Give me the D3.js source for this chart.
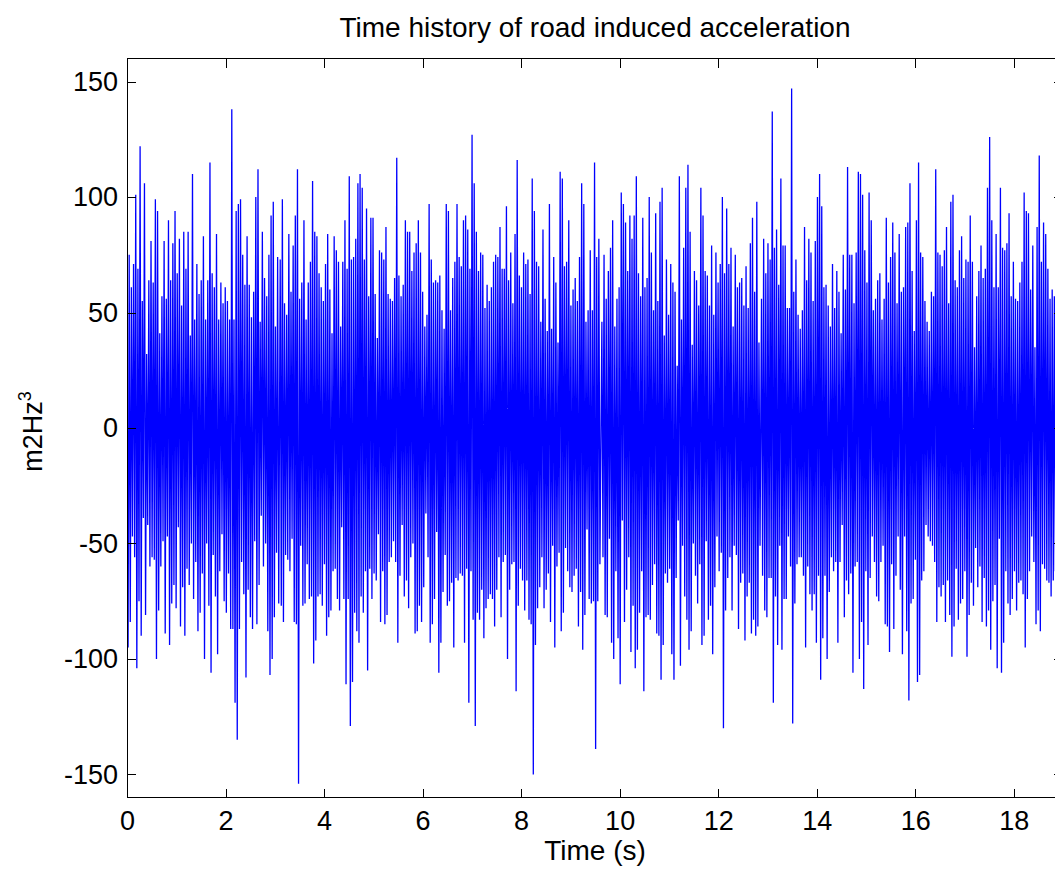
<!DOCTYPE html>
<html>
<head>
<meta charset="utf-8">
<script src="https://cdn.jsdelivr.net/npm/d3@7"></script>
<style>
  html, body { margin: 0; padding: 0; background: #fff; }
  svg { display: block; }
  text { font-family: "Liberation Sans", Arial, sans-serif; fill: #000; }
</style>
</head>
<body>
<div id="chart"></div>
<script>
// ---------- data ----------
const chartTitle = "Time history of road induced acceleration";
const xLabel = "Time (s)";
const yLabelMain = "m2Hz";
const yLabelSup = "3";
const xTicks = [0, 2, 4, 6, 8, 10, 12, 14, 16, 18];
const yTicks = [-150, -100, -50, 0, 50, 100, 150];
const xDomain = [0, 19];
const yDomain = [-160, 160];

// Acceleration samples, alternating peak / trough, in six time segments
const segmentTimes = [
  [0.00, 3.08],
  [3.11, 6.33],
  [6.35, 9.60],
  [9.64, 12.85],
  [12.88, 16.09],
  [16.11, 18.89]
];
const accelSeg1 = [46,-95, 75,-84, 61,-47, 71,-56, 101,-104, 69,-75, 122,-90, 55,-39, 106,-81, 32,-42,
  64,-60, 81,-56, 63,-57, 99,-100, 94,-79, 41,-60, 57,-49, 81,-89, 56,-47, 90,-94,
  64,-76, 80,-68, 94,-78, 67,-43, 82,-86, 53,-69, 85,-90, 69,-61, 85,-68, 40,-50,
  110,-74, 47,-58, 71,-88, 58,-80, 64,-63, 83,-100, 47,-50, 64,-77, 115,-106, 67,-55,
  61,-73, 84,-98, 47,-62, 63,-46, 54,-75, 61,-80, 55,-63, 47,-87, 138,-87, 47,-119,
  94,-135, 97,-87, 99,-58, 75,-72, 62,-108, 83,-70, 62,-82, 48,-87, 59,-49, 100,-85,
  112,-68, 46,-38, 85,-60, 65,-50, 57,-88, 75,-107, 92,-100, 98,-82, 44,-54, 74,-76];
const accelSeg2 = [73,-77, 99,-84, 54,-55, 49,-57, 84,-62, 59,-48, 79,-84, 92,-85, 112,-154, 56,-51,
  63,-77, 90,-76, 47,-59, 63,-74, 72,-73, 107,-102, 85,-92, 83,-73, 67,-72, 61,-77,
  55,-59, 71,-90, 84,-82, 60,-79, 41,-62, 83,-61, 77,-74, 72,-79, 44,-43, 72,-74,
  90,-111, 69,-74, 109,-129, 73,-110, 74,-80, 82,-88, 106,-93, 110,-73, 104,-80, 73,-62,
  95,-105, 57,-61, 91,-74, 91,-63, 58,-66, 39,-46, 77,-84, 76,-62, 73,-85, 87,-81,
  58,-58, 56,-56, 55,-49, 65,-58, 117,-93, 66,-64, 57,-42, 62,-73, 90,-66, 85,-78,
  85,-56, 68,-50, 76,-89, 80,-88, 90,-77, 76,-84, 59,-69, 44,-37, 49,-56, 97,-93,
  73,-85, 63,-74, 64,-45, 63,-106];
const accelSeg3 = [66,-93, 51,-71, 43,-55, 97,-77, 94,-75, 51,-67, 65,-95, 72,-65, 97,-66, 74,-63,
  70,-64, 90,-93, 92,-61, 86,-119, 69,-62, 127,-83, 106,-129, 85,-80, 68,-83, 76,-70,
  75,-91, 52,-78, 62,-74, 55,-72, 61,-74, 72,-86, 75,-70, 74,-56, 87,-82, 69,-58,
  69,-55, 96,-100, 64,-70, 76,-59, 54,-58, 84,-114, 116,-77, 66,-61, 61,-66, 76,-79,
  71,-66, 73,-83, 58,-85, 108,-150, 94,-94, 72,-78, 70,-69, 46,-56, 86,-78, 56,-70,
  42,-63, 97,-84, 43,-51, 74,-95, 63,-60, 37,-54, 111,-88, 108,-80, 70,-52, 72,-62,
  90,-69, 53,-71, 60,-64, 65,-61, 55,-86, 74,-71, 106,-96, 97,-81, 46,-44, 51,-74,
  77,-76, 51,-75, 115,-139, 74,-75, 82,-59];
const accelSeg4 = [46,-56, 75,-81, 56,-82, 68,-48, 78,-93, 90,-100, 44,-62, 56,-91, 61,-111, 102,-40,
  97,-84, 89,-70, 68,-56, 92,-97, 82,-77, 92,-104, 109,-96, 67,-80, 57,-62, 91,-114,
  61,-82, 65,-81, 100,-83, 76,-68, 51,-59, 93,-89, 55,-90, 98,-109, 104,-94, 40,-63,
  73,-67, 49,-61, 71,-98, 63,-109, 59,-65, 27,-40, 109,-103, 47,-51, 78,-73, 104,-83,
  114,-96, 85,-88, 36,-50, 68,-64, 64,-76, 53,-59, 104,-94, 92,-90, 68,-49, 66,-83,
  53,-77, 79,-98, 49,-69, 76,-47, 63,-62, 71,-54, 100,-130, 67,-79, 95,-65, 71,-56,
  78,-79, 44,-51, 75,-55, 61,-87, 63,-67, 65,-63, 53,-92, 70,-73, 52,-67, 80,-89,
  91,-83, 59,-90, 98,-86, 37,-51];
const accelSeg5 = [56,-64, 82,-79, 67,-82, 80,-65, 73,-65, 137,-119, 78,-73, 86,-94, 62,-51, 108,-96,
  79,-74, 79,-74, 52,-47, 52,-60, 147,-128, 59,-76, 73,-59, 49,-56, 43,-56, 51,-64,
  87,-95, 64,-60, 82,-72, 76,-79, 55,-72, 81,-93, 100,-64, 110,-109, 96,-91, 61,-64,
  62,-100, 53,-71, 44,-56, 71,-62, 52,-58, 68,-93, 59,-58, 41,-42, 75,-82, 60,-66,
  113,-72, 75,-63, 75,-106, 54,-60, 76,-58, 111,-100, 110,-84, 101,-113, 77,-62, 63,-94,
  102,-65, 90,-47, 51,-58, 56,-73, 64,-75, 67,-58, 47,-51, 56,-85, 91,-86, 63,-97,
  74,-59, 89,-87, 76,-64, 54,-47, 84,-70, 59,-98, 61,-47, 87,-88, 89,-118, 106,-76,
  68,-74, 42,-57, 90,-110, 115,-107];
const accelSeg6 = [76,-66, 74,-62, 55,-42, 46,-47, 42,-49, 59,-51, 57,-58, 112,-84, 76,-69, 75,-73,
  70,-68, 77,-84, 87,-66, 54,-81, 98,-99, 101,-86, 64,-61, 61,-83, 77,-76, 83,-74,
  65,-62, 73,-99, 72,-81, 92,-67, 72,-77, 35,-52, 57,-69, 68,-60, 79,-84, 65,-65,
  69,-86, 104,-79, 126,-96, 90,-75, 61,-68, 84,-104, 61,-48, 104,-106, 78,-93, 77,-62,
  80,-76, 93,-81, 57,-74, 72,-62, 56,-79, 55,-67, 63,-66, 72,-72, 102,-95, 94,-74,
  93,-62, 60,-47, 79,-58, 35,-85, 87,-79, 118,-88, 72,-59, 89,-61, 84,-66, 69,-67,
  56,-73, 60,-66, 57,-62, 64,-58];
const accelSegments = [accelSeg1, accelSeg2, accelSeg3, accelSeg4, accelSeg5, accelSeg6];

// ---------- build sample table ----------
const samples = [];
accelSegments.forEach((seg, s) => {
  const [t0, t1] = segmentTimes[s];
  const step = (t1 - t0) / (seg.length - 1);
  seg.forEach((v, i) => samples.push({ t: t0 + i * step, a: v }));
});

// ---------- layout ----------
const W = 1055, H = 873;
const x0 = 127, x1 = 1063, y0 = 58.5, y1 = 797.5;

const svg = d3.select("#chart").append("svg")
  .attr("width", W).attr("height", H);

const x = d3.scaleLinear().domain(xDomain).range([x0, x1]);
const y = d3.scaleLinear().domain(yDomain).range([y1, y0]);

svg.append("clipPath").attr("id", "plotclip")
  .append("rect").attr("x", x0).attr("y", y0).attr("width", x1 - x0).attr("height", y1 - y0);

const line = d3.line().x(d => x(d.t)).y(d => y(d.a));
svg.append("path")
  .datum(samples)
  .attr("clip-path", "url(#plotclip)")
  .attr("fill", "none")
  .attr("stroke", "#0000ff")
  .attr("stroke-width", 1.3)
  .attr("stroke-linejoin", "miter")
  .attr("stroke-miterlimit", 2)
  .attr("d", line);

const tickLen = 9;
const fs = 27;
function styleAxis(g) {
  g.selectAll(".domain").remove();
  g.selectAll(".tick line").attr("stroke", "#000").attr("stroke-width", 1).attr("shape-rendering", "crispEdges");
  g.selectAll(".tick text").style("font-size", fs + "px").style("font-family", '"Liberation Sans", Arial, sans-serif').attr("fill", "#000");
}
svg.append("g").attr("transform", `translate(0,${y1})`)
  .call(d3.axisBottom(x).tickValues(xTicks).tickFormat(d3.format("d")).tickSize(-tickLen).tickPadding(13))
  .call(styleAxis);
svg.append("g").attr("transform", `translate(0,${y0})`)
  .call(d3.axisTop(x).tickValues(xTicks).tickFormat("").tickSize(-tickLen))
  .call(styleAxis);
svg.append("g").attr("transform", `translate(${x0},0)`)
  .call(d3.axisLeft(y).tickValues(yTicks).tickFormat(d3.format("d")).tickSize(-tickLen).tickPadding(9))
  .call(styleAxis);
svg.append("g").attr("transform", `translate(${x1},0)`)
  .call(d3.axisRight(y).tickValues(yTicks).tickFormat("").tickSize(-tickLen))
  .call(styleAxis);

svg.selectAll(".tick text").text(function() { return d3.select(this).text().replace("\u2212", "-"); });

svg.append("rect")
  .attr("x", x0).attr("y", y0).attr("width", x1 - x0).attr("height", y1 - y0)
  .attr("fill", "none").attr("stroke", "#000").attr("stroke-width", 1)
  .attr("shape-rendering", "crispEdges");

svg.append("text")
  .attr("x", (x0 + x1) / 2).attr("y", 37)
  .attr("text-anchor", "middle")
  .style("font-size", "28px")
  .text(chartTitle);

svg.append("text")
  .attr("x", (x0 + x1) / 2).attr("y", 860)
  .attr("text-anchor", "middle")
  .style("font-size", "28px")
  .text(xLabel);

const yl = svg.append("text")
  .attr("transform", "translate(42,431.5) rotate(-90)")
  .attr("text-anchor", "middle")
  .style("font-size", fs + "px");
yl.append("tspan").text(yLabelMain);
yl.append("tspan").attr("dy", -11).style("font-size", "18px").text(yLabelSup);
</script>
</body>
</html>
